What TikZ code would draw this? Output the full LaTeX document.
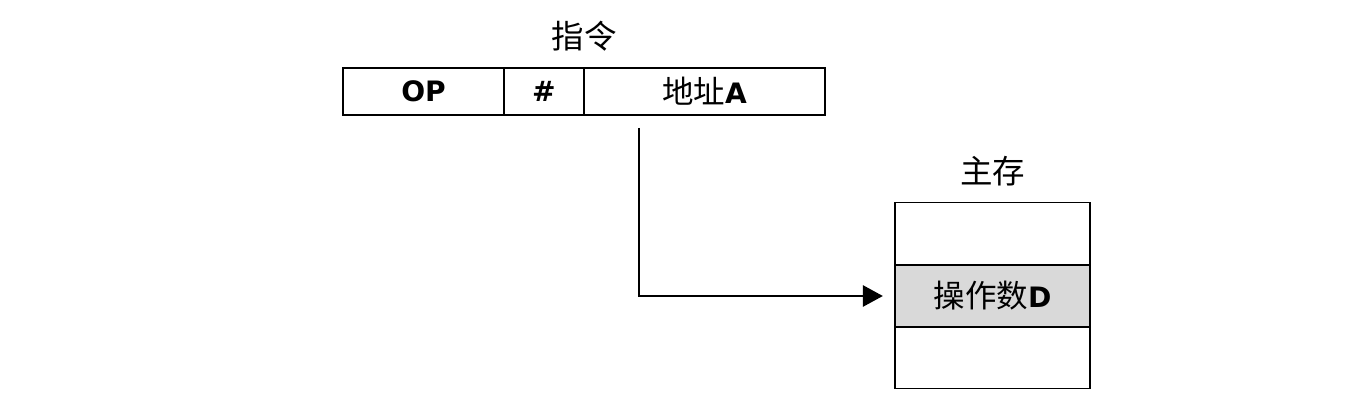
\documentclass[tikz,border=0pt]{standalone}
\usepackage{fontspec}
\setmainfont{DejaVu Sans}
\newfontfamily\cjk[Scale=1.12]{Noto Sans CJK SC}
\usepackage{tikz}
\usetikzlibrary{arrows.meta, positioning}
\tikzset{%
	every cell/.style={
		rectangle,
		draw,
		line width=0.8pt,
		inner sep=0pt,
		minimum height=0.94cm,
		font=\fontsize{16}{18}\selectfont\bfseries
	},
	mem cell/.style={
		every cell,
		minimum width=3.9cm,
		minimum height=1.24cm
	},
	title/.style={
		font=\fontsize{16.5}{18}\selectfont\cjk
	},
}
\newcommand{\zh}[1]{{\cjk\mdseries #1}}

\begin{document}
\begin{tikzpicture}[x=0.02cm, y=-0.02cm]
			\useasboundingbox (0,0) rectangle (1353,408);
			% Draw the instruction
			\node[every cell, minimum width=3.22cm] (op) at (423.5,91.5) {OP};
			\node[every cell, minimum width=1.6cm] (mode) at (544,91.5) {\#};
			\node[every cell, minimum width=4.82cm] (addr) at (704.5,91.5) {\zh{地址}A};
			\node[title] (instr) at (584,36) {指令};
			
			% Draw the main memory
			\node[mem cell] (top) at (992.5,233.5) {};
			\node[mem cell, fill=black!15] (data) at (992.5,296) {\zh{操作数}D};
			\node[mem cell] (bottom) at (992.5,357.5) {};
			\node[title] (mem) at (992.5,171) {主存};
			
			% Draw the arrow
			\coordinate (from) at (639,128);
			\draw[-{Triangle[length=0.4cm, width=0.42cm]}, line width=1.5pt, shorten >=6.5pt]
				(from) |- (data.west);
		\end{tikzpicture}
\end{document}
